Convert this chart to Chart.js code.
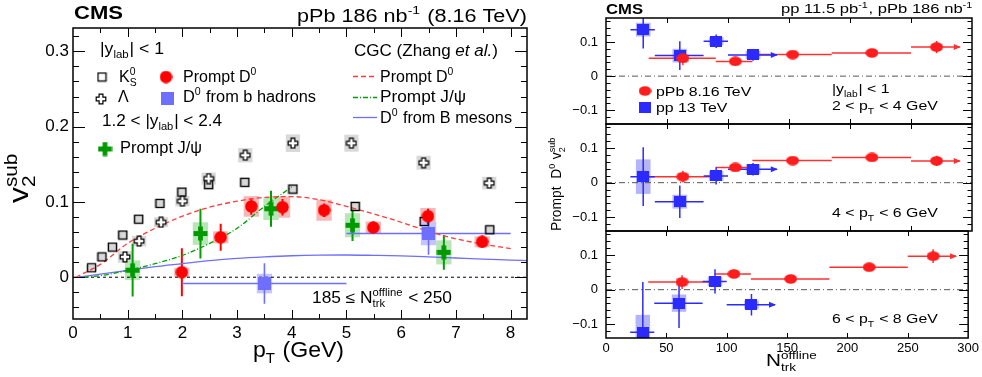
<!DOCTYPE html>
<html>
<head>
<meta charset="utf-8">
<title>Prompt D0 v2sub</title>
<script src="https://cdn.jsdelivr.net/npm/chart.js@4.4.1/dist/chart.umd.min.js"></script>
<style>
  body { margin: 0; background: #fff; }
  #wrap { position: relative; width: 982px; height: 377px; overflow: hidden; }
  canvas { position: absolute; top: 0; }
</style>
</head>
<body>
<div id="wrap">
  <canvas id="left" width="540" height="377" style="left:0"></canvas>
  <canvas id="p1" width="442" height="377" style="left:540px"></canvas>
  <canvas id="p2" width="442" height="377" style="left:540px"></canvas>
  <canvas id="p3" width="442" height="377" style="left:540px"></canvas>
</div>
<script>
const FONT = '"Liberation Sans", Arial, Helvetica, sans-serif'

// ---------- left panel: v2sub vs pT (185 <= Ntrk < 250) ----------
const ptTicks = [0, 1, 2, 3, 4, 5, 6, 7, 8]
const v2Ticks = [0, 0.1, 0.2, 0.3]

const ksPt  = [0.34, 0.53, 0.72, 0.91, 1.20, 1.59, 1.99, 2.48, 3.14, 4.02, 5.16, 6.42, 7.62]
const ksV2  = [0.0125, 0.027, 0.040, 0.056, 0.077, 0.098, 0.113, 0.123, 0.126, 0.117, 0.094, 0.074, 0.063]
const ksSys = [0.004, 0.0055, 0.0055, 0.006, 0.006, 0.006, 0.007, 0.007, 0.0066, 0.007, 0.007, 0.0065, 0.006]

const lamPt  = [0.95, 1.21, 1.61, 2.00, 2.48, 3.15, 4.02, 5.09, 6.41, 7.61]
const lamV2  = [0.027, 0.048, 0.073, 0.101, 0.131, 0.162, 0.178, 0.178, 0.152, 0.125]
const lamSys = [0.0077, 0.007, 0.0066, 0.007, 0.008, 0.0095, 0.0117, 0.0113, 0.0093, 0.0084]

const d0Pt   = [1.99, 2.70, 3.26, 3.83, 4.59, 5.49, 6.49, 7.48]
const d0V2   = [0.0066, 0.053, 0.094, 0.093, 0.089, 0.066, 0.081, 0.047]
const d0Err  = [0.032, 0.018, 0.011, 0.011, 0.009, 0.008, 0.010, 0.008]
const d0Sys  = [0.006, 0.008, 0.0137, 0.014, 0.014, 0.008, 0.011, 0.0073]

const jpsiPt  = [1.09, 2.33, 3.62, 5.11, 6.78]
const jpsiV2  = [0.0093, 0.058, 0.091, 0.069, 0.033]
const jpsiErr = [0.035, 0.033, 0.024, 0.021, 0.023]
const jpsiSys = [0.013, 0.015, 0.015, 0.016, 0.016]

const bPt  = [3.5, 6.5]
const bLo  = [2, 5]
const bHi  = [5, 8]
const bV2  = [-0.0084, 0.058]
const bErr = [0.027, 0.028]
const bSys = [0.013, 0.0155]

const cgcD0Pt = [0.05, 0.5, 1, 1.5, 2, 2.5, 3, 3.5, 4, 4.5, 5, 5.5, 6, 6.5, 7, 7.5, 8]
const cgcD0   = [0, 0.017, 0.045, 0.065, 0.081, 0.093, 0.101, 0.106, 0.107, 0.103, 0.094, 0.084, 0.073, 0.061, 0.051, 0.044, 0.038]
const cgcJpsiPt = [0.2, 0.5, 1, 1.5, 2, 2.5, 3, 3.5, 4]
const cgcJpsi   = [0, 0.002, 0.009, 0.018, 0.029, 0.045, 0.065, 0.094, 0.12]
const cgcBPt = [0.1, 0.5, 1, 1.5, 2, 2.5, 3, 3.5, 4, 4.5, 5, 5.5, 6, 6.5, 7, 7.5, 8, 8.3]
const cgcB   = [0, 0.004, 0.009, 0.014, 0.018, 0.022, 0.025, 0.027, 0.0285, 0.0293, 0.0295, 0.029, 0.0283, 0.027, 0.0255, 0.024, 0.0228, 0.022]

// ---------- right panels: prompt D0 v2sub vs Ntrk ----------
const nTicks = [0, 50, 100, 150, 200, 250, 300]
const rTicks = [-0.1, 0, 0.1]

const ppbN  = [63, 106, 153, 218, 271]
const ppbLo = [35, 90, 120, 185, 250]
const ppbHi = [90, 120, 185, 250, 290]
const ppN   = [30.5, 60.5, 90.3, 120.5]
const ppLo  = [20, 40, 80, 100]
const ppHi  = [40, 80, 100, 140]

// 2 < pT < 4
const ppbV2a  = [0.052, 0.043, 0.063, 0.068, 0.085]
const ppbErrA = [0.02, 0.012, 0.01, 0.008, 0.018]
const ppbSysA = [0.012, 0.008, 0.007, 0.007, 0.01]
const ppV2a   = [0.136, 0.060, 0.102, 0.062]
const ppErrA  = [0.055, 0.042, 0.02, 0.017]
const ppSysA  = [0.02, 0.02, 0.012, 0.012]
// 4 < pT < 6
const ppbV2b  = [0.0175, 0.044, 0.064, 0.073, 0.063]
const ppbErrB = [0.017, 0.01, 0.009, 0.009, 0.015]
const ppbSysB = [0.01, 0.008, 0.007, 0.007, 0.009]
const ppV2b   = [0.0175, -0.055, 0.0195, 0.039]
const ppErrB  = [0.085, 0.047, 0.025, 0.018]
const ppSysB  = [0.05, 0.02, 0.014, 0.014]
// 6 < pT < 8
const ppbV2c  = [0.022, 0.0455, 0.031, 0.065, 0.097]
const ppbErrC = [0.02, 0.012, 0.01, 0.01, 0.02]
const ppbSysC = [0.012, 0.008, 0.007, 0.007, 0.01]
const ppV2c   = [-0.123, -0.039, 0.024, -0.0435]
const ppErrC  = [0.145, 0.072, 0.035, 0.031]
const ppSysC  = [0.05, 0.025, 0.014, 0.012]

const pts = (xs, ys) => xs.map((v, i) => ({x: v, y: ys[i]}))

// marker images
function mk(w, h, draw) {
  const c = document.createElement('canvas')
  c.width = w; c.height = h
  draw(c.getContext('2d'))
  return c
}
function plusPath(g, cx, cy, r, a) {
  g.beginPath()
  g.moveTo(cx - a, cy - r); g.lineTo(cx + a, cy - r); g.lineTo(cx + a, cy - a)
  g.lineTo(cx + r, cy - a); g.lineTo(cx + r, cy + a); g.lineTo(cx + a, cy + a)
  g.lineTo(cx + a, cy + r); g.lineTo(cx - a, cy + r); g.lineTo(cx - a, cy + a)
  g.lineTo(cx - r, cy + a); g.lineTo(cx - r, cy - a); g.lineTo(cx - a, cy - a)
  g.closePath()
}
const mkKs = mk(11, 11, g => { g.strokeStyle = '#000'; g.lineWidth = 1.3; g.strokeRect(1.5, 1.5, 8, 8) })
const mkLam = mk(12, 12, g => { plusPath(g, 6, 6, 4.8, 1.9); g.fillStyle = '#fff'; g.fill(); g.strokeStyle = '#000'; g.lineWidth = 1.2; g.stroke() })
const mkJpsi = mk(15, 15, g => { plusPath(g, 7.5, 7.5, 7, 2.4); g.fillStyle = '#009a00'; g.fill() })
const mkD0 = mk(13, 13, g => { g.fillStyle = '#ff0000'; g.beginPath(); g.arc(6.5, 6.5, 6.2, 0, 7); g.fill() })
const mkB = mk(13, 13, g => { g.fillStyle = '#6e6eff'; g.fillRect(0, 0, 13, 13) })
const mkPPb = mk(13, 10, g => { g.fillStyle = '#ff1c1c'; g.beginPath(); g.ellipse(6.5, 5, 6.3, 4.8, 0, 0, 7); g.fill() })
const mkPP = mk(12, 11, g => { g.fillStyle = '#2b2bff'; g.fillRect(0, 0, 12, 11) })

// text with sub/superscripts, ROOT latex style
function rich(ctx, parts, x, y, size, o) {
  o = o || {}
  const sm = size * 0.65
  const fnt = (s, st) => (st ? st + ' ' : '') + s + 'px ' + FONT
  const items = parts.map(p => typeof p === 'string' ? {t: p} : p)
  ctx.save()
  const ws = items.map(p => {
    if (p.t != null || p.b != null || p.i != null) {
      ctx.font = fnt(size, p.b != null ? 'bold' : p.i != null ? 'italic' : '')
      return ctx.measureText(p.t ?? p.b ?? p.i).width
    }
    ctx.font = fnt(sm)
    return Math.max(p.sub ? ctx.measureText(p.sub).width : 0, p.sup ? ctx.measureText(p.sup).width : 0) + size * 0.05
  })
  const W = ws.reduce((s, v) => s + v, 0)
  const sx = o.w ? o.w / W : (o.sx || 1)
  ctx.translate(x, y)
  if (o.rot) ctx.rotate(o.rot)
  ctx.scale(sx, 1)
  let cx = o.align === 'right' ? -W : 0
  ctx.fillStyle = '#000'
  ctx.textAlign = 'left'
  ctx.textBaseline = 'alphabetic'
  items.forEach((p, i) => {
    if (p.t != null || p.b != null || p.i != null) {
      ctx.font = fnt(size, p.b != null ? 'bold' : p.i != null ? 'italic' : '')
      ctx.fillText(p.t ?? p.b ?? p.i, cx, 0)
    } else {
      ctx.font = fnt(sm)
      if (p.sup) ctx.fillText(p.sup, cx, -size * 0.42)
      if (p.sub) ctx.fillText(p.sub, cx, size * 0.27)
    }
    cx += ws[i]
  })
  ctx.restore()
}

function img(ctx, im, x, y) { ctx.drawImage(im, x - im.width / 2, y - im.height / 2) }

function sysBoxes(ctx, x, y, xs, ys, sy, hw, col) {
  ctx.fillStyle = col
  xs.forEach((v, i) => {
    const l = x.getPixelForValue(v - hw), r = x.getPixelForValue(v + hw)
    const t = y.getPixelForValue(ys[i] + sy[i]), b = y.getPixelForValue(ys[i] - sy[i])
    ctx.fillRect(l, t, r - l, b - t)
  })
}

function errBars(ctx, x, y, xs, ys, ey, col, lw, lo, hi, arrowLast) {
  ctx.strokeStyle = col
  ctx.fillStyle = col
  ctx.lineWidth = lw
  ctx.beginPath()
  xs.forEach((v, i) => {
    const px = x.getPixelForValue(v), py = y.getPixelForValue(ys[i])
    ctx.moveTo(px, y.getPixelForValue(ys[i] + ey[i]))
    ctx.lineTo(px, y.getPixelForValue(ys[i] - ey[i]))
    if (lo) {
      ctx.moveTo(x.getPixelForValue(lo[i]), py)
      ctx.lineTo(x.getPixelForValue(hi[i]), py)
    }
  })
  ctx.stroke()
  if (arrowLast) {
    const i = xs.length - 1
    const ax = x.getPixelForValue(hi[i]), ay = y.getPixelForValue(ys[i])
    ctx.beginPath()
    ctx.moveTo(ax + 1, ay); ctx.lineTo(ax - 6, ay - 3); ctx.lineTo(ax - 6, ay + 3)
    ctx.closePath(); ctx.fill()
  }
}

function drawFrame(ch, f) {
  const {ctx, chartArea: a, scales: {x, y}} = ch
  ctx.save()
  ctx.strokeStyle = '#000'
  ctx.lineWidth = 1
  ctx.beginPath()
  f.xTicks.forEach(t => {
    const px = Math.round(x.getPixelForValue(t[0])) + 0.5
    if (px < a.left + 1 || px > a.right - 1) return
    ctx.moveTo(px, a.bottom); ctx.lineTo(px, a.bottom - t[1])
    ctx.moveTo(px, a.top); ctx.lineTo(px, a.top + t[1])
  })
  f.yTicks.forEach(t => {
    const py = Math.round(y.getPixelForValue(t[0])) + 0.5
    if (py < a.top + 1 || py > a.bottom - 1) return
    ctx.moveTo(a.left, py); ctx.lineTo(a.left + t[1], py)
    ctx.moveTo(a.right, py); ctx.lineTo(a.right - t[1], py)
  })
  ctx.stroke()
  ctx.lineWidth = f.lw
  ctx.strokeRect(a.left, a.top, a.right - a.left, a.bottom - a.top)
  ctx.restore()
}

function clipArea(ctx, a) {
  ctx.beginPath()
  ctx.rect(a.left, a.top, a.right - a.left, a.bottom - a.top)
  ctx.clip()
}

// tick positions of the frames
const leftXT = [], leftYT = [], rightXT = [], rightYT = []
for (let i = 0; i <= 16; i++) leftXT.push([i * 0.5, i % 2 ? 5 : 9])
for (let i = -2; i <= 16; i++) leftYT.push([i * 0.02, i % 5 ? 6 : 12])
for (let i = 0; i <= 6; i++) rightXT.push([i * 50, 5])
for (let i = -7; i <= 8; i++) rightYT.push([i * 0.02, i % 5 ? 4.5 : 9])

const leftDeco = {
  id: 'leftDeco',
  beforeDatasetsDraw(ch) {
    const {ctx, chartArea: a, scales: {x, y}} = ch
    ctx.save()
    clipArea(ctx, a)
    sysBoxes(ctx, x, y, ksPt, ksV2, ksSys, 0.10, '#d9d9d9')
    sysBoxes(ctx, x, y, lamPt, lamV2, lamSys, 0.13, '#d9d9d9')
    sysBoxes(ctx, x, y, d0Pt, d0V2, d0Sys, 0.14, '#f7b8b8')
    sysBoxes(ctx, x, y, jpsiPt, jpsiV2, jpsiSys, 0.14, '#b8e6b8')
    sysBoxes(ctx, x, y, bPt, bV2, bSys, 0.14, '#c4c4ff')
    // zero line
    ctx.strokeStyle = '#000'
    ctx.lineWidth = 1
    ctx.setLineDash([3, 3])
    ctx.beginPath()
    ctx.moveTo(a.left, y.getPixelForValue(0))
    ctx.lineTo(a.right, y.getPixelForValue(0))
    ctx.stroke()
    ctx.setLineDash([])
    errBars(ctx, x, y, d0Pt, d0V2, d0Err, '#ff0000', 2)
    errBars(ctx, x, y, jpsiPt, jpsiV2, jpsiErr, '#00a000', 2)
    errBars(ctx, x, y, bPt, bV2, bErr, '#6e6eff', 1.6, bLo, bHi)
    ctx.restore()
  },
  afterDraw(ch) {
    const ctx = ch.ctx
    drawFrame(ch, {xTicks: leftXT, yTicks: leftYT, lw: 1.5})
    rich(ctx, [{b: 'CMS'}], 74, 19, 19, {w: 49})
    rich(ctx, ['pPb 186 nb', {sup: '-1'}, ' (8.16 TeV)'], 527, 22, 18, {w: 230, align: 'right'})
    rich(ctx, ['|y', {sub: 'lab'}, '| < 1'], 100, 54, 16, {w: 64})
    img(ctx, mkKs, 102, 77)
    rich(ctx, ['K', {sub: 'S', sup: '0'}], 119, 82, 16)
    img(ctx, mkD0, 166, 77)
    rich(ctx, ['Prompt D', {sup: '0'}], 183, 82, 16)
    img(ctx, mkLam, 101, 99)
    rich(ctx, ['\u039b'], 118, 102, 16)
    img(ctx, mkB, 167, 98)
    rich(ctx, ['D', {sup: '0'}, ' from b hadrons'], 183, 102, 16, {w: 133})
    rich(ctx, ['1.2 < |y', {sub: 'lab'}, '| < 2.4'], 102, 126, 16, {w: 120})
    img(ctx, mkJpsi, 105, 149)
    rich(ctx, ['Prompt J/\u03c8'], 120, 153, 16, {w: 82})

    rich(ctx, ['CGC (Zhang ', {i: 'et al.'}, ')'], 354, 56, 16, {w: 144})
    ctx.save()
    ctx.lineWidth = 1.3
    ctx.strokeStyle = '#ff3a3a'; ctx.setLineDash([5, 3])
    ctx.beginPath(); ctx.moveTo(353, 76.5); ctx.lineTo(377, 76.5); ctx.stroke()
    ctx.strokeStyle = '#00a000'; ctx.setLineDash([5, 2, 1, 2])
    ctx.beginPath(); ctx.moveTo(353, 97.5); ctx.lineTo(377, 97.5); ctx.stroke()
    ctx.strokeStyle = '#6e6eff'; ctx.setLineDash([])
    ctx.beginPath(); ctx.moveTo(353, 117.5); ctx.lineTo(377, 117.5); ctx.stroke()
    ctx.restore()
    rich(ctx, ['Prompt D', {sup: '0'}], 380, 82, 16)
    rich(ctx, ['Prompt J/\u03c8'], 380, 102, 16, {w: 86})
    rich(ctx, ['D', {sup: '0'}, ' from B mesons'], 380, 123, 16, {w: 132})
    rich(ctx, ['185 \u2264 N', {sub: 'trk', sup: 'offline'}, ' < 250'], 312, 303, 16, {w: 140})

    rich(ctx, ['p', {sub: 'T'}, ' (GeV)'], 253, 357, 22, {w: 91})
    rich(ctx, ['v', {sub: '2', sup: 'sub'}], 28, 203, 27, {rot: -Math.PI / 2, w: 51})
  }
}

new Chart(document.getElementById('left'), {
  type: 'scatter',
  data: {
    datasets: [
      {data: pts(d0Pt, d0V2), pointStyle: mkD0, pointRadius: 5},
      {data: pts(jpsiPt, jpsiV2), pointStyle: mkJpsi, pointRadius: 5},
      {data: pts(bPt, bV2), pointStyle: mkB, pointRadius: 5},
      {data: pts(lamPt, lamV2), pointStyle: mkLam, pointRadius: 5},
      {data: pts(ksPt, ksV2), pointStyle: mkKs, pointRadius: 5},
      {data: pts(cgcD0Pt, cgcD0), showLine: true, pointRadius: 0, borderColor: '#ff3a3a',
       borderWidth: 1.3, borderDash: [5, 3], cubicInterpolationMode: 'monotone'},
      {data: pts(cgcJpsiPt, cgcJpsi), showLine: true, pointRadius: 0, borderColor: '#00a000',
       borderWidth: 1.3, borderDash: [5, 2, 1, 2], cubicInterpolationMode: 'monotone'},
      {data: pts(cgcBPt, cgcB), showLine: true, pointRadius: 0, borderColor: '#6e6eff',
       borderWidth: 1.3, cubicInterpolationMode: 'monotone'}
    ]
  },
  options: {
    responsive: false, animation: false, devicePixelRatio: 1, events: [],
    layout: {padding: {top: 28, right: 13, left: 0, bottom: 0}},
    plugins: {legend: {display: false}, tooltip: {enabled: false}},
    scales: {
      x: {
        type: 'linear', min: 0, max: 8.3,
        grid: {display: false, drawTicks: false}, border: {display: false},
        ticks: {color: '#000', font: {family: FONT, size: 17}, padding: 4, maxRotation: 0},
        afterBuildTicks: s => { s.ticks = ptTicks.map(v => ({value: v})) },
        afterFit: s => { s.height = 58 }
      },
      y: {
        type: 'linear', min: -0.0555, max: 0.331,
        grid: {display: false, drawTicks: false}, border: {display: false},
        ticks: {color: '#000', font: {family: FONT, size: 17}, padding: 4,
                callback: v => v === 0 ? '0' : v.toFixed(1)},
        afterBuildTicks: s => { s.ticks = v2Ticks.map(v => ({value: v})) },
        afterFit: s => { s.width = 73 }
      }
    }
  },
  plugins: [leftDeco]
})

// ---------- right panels ----------
const SX = 1.22
function panel(id, top, bottom, showX, ppbV2, ppbErr, ppbSys, ppV2, ppErr, ppSys, label, labelY, extra) {
  const deco = {
    id: 'deco' + id,
    beforeDatasetsDraw(ch) {
      const {ctx, chartArea: a, scales: {x, y}} = ch
      ctx.save()
      clipArea(ctx, a)
      sysBoxes(ctx, x, y, ppbN, ppbV2, ppbSys, 5, '#fbc0c0')
      sysBoxes(ctx, x, y, ppN, ppV2, ppSys, 6, '#b4b4f8')
      ctx.strokeStyle = '#555'
      ctx.lineWidth = 1
      ctx.setLineDash([6, 3, 1, 3])
      ctx.beginPath()
      ctx.moveTo(a.left, y.getPixelForValue(0))
      ctx.lineTo(a.right, y.getPixelForValue(0))
      ctx.stroke()
      ctx.setLineDash([])
      errBars(ctx, x, y, ppbN, ppbV2, ppbErr, '#ff3030', 1.5, ppbLo, ppbHi, true)
      errBars(ctx, x, y, ppN, ppV2, ppErr, '#2b2bff', 1.5, ppLo, ppHi, true)
      ctx.restore()
    },
    afterDraw(ch) {
      drawFrame(ch, {xTicks: rightXT, yTicks: rightYT, lw: 1.5})
      rich(ch.ctx, label, 292, labelY, 13, {sx: SX})
      if (extra) extra(ch.ctx)
    }
  }
  new Chart(document.getElementById(id), {
    type: 'scatter',
    data: {
      datasets: [
        {data: pts(ppbN, ppbV2), pointStyle: mkPPb, pointRadius: 5},
        {data: pts(ppN, ppV2), pointStyle: mkPP, pointRadius: 5}
      ]
    },
    options: {
      responsive: false, animation: false, devicePixelRatio: 1, events: [],
      layout: {padding: {top: top, right: 10, left: 0, bottom: showX ? 0 : 377 - bottom}},
      plugins: {legend: {display: false}, tooltip: {enabled: false}},
      scales: {
        x: {
          type: 'linear', min: 0, max: 300, display: showX,
          grid: {display: false, drawTicks: false}, border: {display: false},
          ticks: {color: '#000', font: {family: FONT, size: 13}, padding: 3, maxRotation: 0},
          afterBuildTicks: s => { s.ticks = nTicks.map(v => ({value: v})) },
          afterFit: s => { s.height = showX ? 377 - bottom : 0 }
        },
        y: {
          type: 'linear', min: -0.14, max: 0.17,
          grid: {display: false, drawTicks: false}, border: {display: false},
          ticks: {color: '#000', font: {family: FONT, size: 13}, padding: 8,
                  callback: v => v === 0 ? '0' : (v < 0 ? '\u2212' : '') + Math.abs(v).toFixed(1)},
          afterBuildTicks: s => { s.ticks = rTicks.map(v => ({value: v})) },
          afterFit: s => { s.width = 66 }
        }
      }
    },
    plugins: [deco]
  })
}

panel('p1', 18, 124, false, ppbV2a, ppbErrA, ppbSysA, ppV2a, ppErrA, ppSysA,
  ['2 < p', {sub: 'T'}, ' < 4 GeV'], 110, ctx => {
    rich(ctx, [{b: 'CMS'}], 66, 14, 15, {w: 37})
    rich(ctx, ['pp 11.5 pb', {sup: '-1'}, ', pPb 186 nb', {sup: '-1'}], 433, 13, 13, {w: 192, align: 'right'})
    img(ctx, mkPPb, 105, 91)
    rich(ctx, ['pPb 8.16 TeV'], 116, 96, 13, {sx: SX})
    img(ctx, mkPP, 105, 107)
    rich(ctx, ['pp 13 TeV'], 116, 112, 13, {sx: SX})
    rich(ctx, ['|y', {sub: 'lab'}, '| < 1'], 292, 93, 13, {sx: SX})
    rich(ctx, ['Prompt  D', {sup: '0'}, ' v', {sub: '2', sup: 'sub'}], 21, 231, 15, {rot: -Math.PI / 2, w: 94})
  })
panel('p2', 124, 231, false, ppbV2b, ppbErrB, ppbSysB, ppV2b, ppErrB, ppSysB,
  ['4 < p', {sub: 'T'}, ' < 6 GeV'], 217)
panel('p3', 231, 338, true, ppbV2c, ppbErrC, ppbSysC, ppV2c, ppErrC, ppSysC,
  ['6 < p', {sub: 'T'}, ' < 8 GeV'], 323, ctx => {
    rich(ctx, ['N', {sub: 'trk', sup: 'offline'}], 226, 366, 17, {sx: SX})
  })
</script>
</body>
</html>
